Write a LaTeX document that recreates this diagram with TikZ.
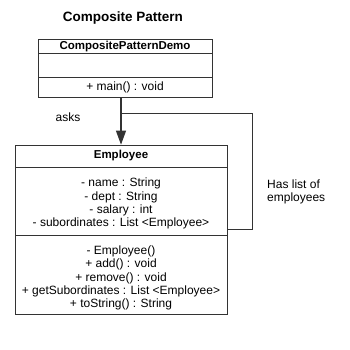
\documentclass[tikz,border=0pt]{standalone}
\usepackage{fontspec}
\setmainfont{Liberation Sans}
\usetikzlibrary{arrows.meta}

\begin{document}
\begin{tikzpicture}[x=1pt, y=-1pt,
	umlbox/.style={draw=black!80, line width=0.7pt, inner sep=0pt},
	link/.style={draw=black!80, line width=0.7pt},
	member/.style={inner sep=0pt, align=center, font=\fontsize{12}{13.2}\selectfont},
	classname/.style={inner sep=0pt, font=\fontsize{11.5}{13}\selectfont\bfseries},
	note/.style={inner sep=0pt, align=left, font=\fontsize{12}{13.2}\selectfont}]
	%%%%% START %%%%%
	\useasboundingbox (0,0) rectangle (350,350);

	\node[inner sep=0pt, font=\fontsize{13.5}{16}\selectfont\bfseries] (title) at (123,18) {Composite Pattern};

	% demo class
	\node[umlbox, minimum width=174pt, minimum height=58pt] (demo) at (125,68.5) {};
	\draw[link] (38,53.5) -- (212,53.5);
	\draw[link] (38,77.5) -- (212,77.5);
	\node[classname] (demoname) at (125,46.5) {CompositePatternDemo};
	\node[member] (demomain) at (125,87.5) {+ main() : void};

	% employee class
	\node[umlbox, minimum width=212pt, minimum height=169pt] (emp) at (121,229.5) {};
	\draw[link] (15,167) -- (227,167);
	\draw[link] (15,235) -- (227,235);
	\node[classname] (empname) at (121,156) {Employee};
	\node[member] (empattr) at (121,203.5) {- name : String\\- dept : String\\- salary : int\\- subordinates : List <Employee>};
	\node[member] (empops) at (121,278) {- Employee()\\+ add() : void\\+ remove() : void\\+ getSubordinates : List <Employee>\\+ toString() : String};

	% asks
	\draw[link, line width=1.1pt, -{Triangle[length=14pt, width=10pt]}] (emp.north |- demo.south) -- (emp.north);
	\node[member] (asks) at (68,117) {asks};

	% has list of
	\coordinate (loopout) at (121,113);
	\coordinate (loopin) at (227,229);
	\draw[link] (loopout) -- (252,113) -- (252,229) -- (loopin);
	\node[note, anchor=west] (haslist) at (267,191.5) {Has list of\\employees};

	%%%%% END %%%%%
\end{tikzpicture}
\end{document}
